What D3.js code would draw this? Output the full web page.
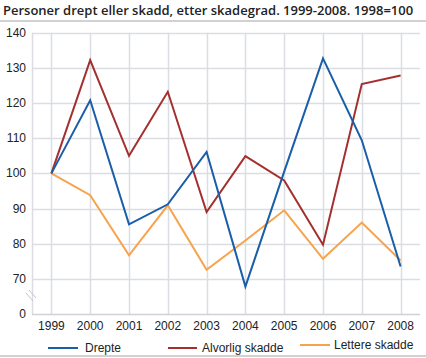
<!DOCTYPE html>
<html><head><meta charset="utf-8">
<script src="https://cdn.jsdelivr.net/npm/d3@7"></script>
<style>body{margin:0;background:#fff}svg{display:block}</style>
</head><body>
<script>
const years = ["1999","2000","2001","2002","2003","2004","2005","2006","2007","2008"];
const drepte = [100,120.8,85.5,91.2,106.1,67.8,100.5,132.7,109.4,73.5];
const alvorlig = [100,132.2,105,123.2,89,104.9,98,79.7,125.4,127.8];
const lettere = [100,93.8,76.7,90.9,72.6,80.9,89.5,75.7,86,75.2];
const seriesNames = ["Drepte","Alvorlig skadde","Lettere skadde"];
const seriesColors = ["#1a5da8","#a3302f","#f7a34d"];
const yTickValues = [60,70,80,90,100,110,120,130,140];
const yTickLabels = ["0","70","80","90","100","110","120","130","140"];
const title = "Personer drept eller skadd, etter skadegrad. 1999-2008. 1998=100";

const W=426,H=358;
const svg=d3.select("body").append("svg").attr("width",W).attr("height",H);
svg.append("text").attr("x",3).attr("y",15).text(title)
  .attr("font-family","Open Sans").attr("font-weight",600).attr("font-size",13).attr("fill","#222");
svg.append("rect").attr("x",0).attr("y",20).attr("width",W).attr("height",2).attr("fill","#d2d2d2");
svg.append("rect").attr("x",0).attr("y",355).attr("width",W).attr("height",2).attr("fill","#d2d2d2");

const x=d3.scalePoint().domain(years).range([32,420]).padding(0.5);
const y=d3.scaleLinear().domain([60,140]).range([314,32.7]);

const grid="#dcdde3";
const g=svg.append("g");
g.selectAll("line.h").data(yTickValues.slice(1)).join("line")
  .attr("x1",32).attr("x2",420).attr("y1",d=>Math.round(y(d))+0.5).attr("y2",d=>Math.round(y(d))+0.5)
  .attr("stroke",grid).attr("stroke-width",1.5);
g.selectAll("line.v").data(years).join("line")
  .attr("x1",d=>Math.round(x(d))+0.5).attr("x2",d=>Math.round(x(d))+0.5)
  .attr("y1",y(140)).attr("y2",y(60)).attr("stroke",grid).attr("stroke-width",1.5);
g.append("line").attr("x1",32.5).attr("x2",32.5).attr("y1",y(140)).attr("y2",y(60)).attr("stroke",grid).attr("stroke-width",1.5);
g.append("line").attr("x1",32).attr("x2",420).attr("y1",y(60)+0.5).attr("y2",y(60)+0.5).attr("stroke","#d0d1d8").attr("stroke-width",1.5);
// break marks
[0,3].forEach(o=>{
  g.append("line").attr("x1",26+o).attr("y1",293-o).attr("x2",33+o).attr("y2",301-o).attr("stroke","#c4c5cc").attr("stroke-width",1);
});

svg.selectAll("text.yt").data(yTickValues).join("text")
  .attr("x",26).attr("y",d=>y(d)+4).attr("text-anchor","end").text((d,i)=>yTickLabels[i])
  .attr("font-family","Liberation Sans").attr("font-size",12).attr("fill","#222");
svg.selectAll("text.xt").data(years).join("text")
  .attr("x",d=>x(d)).attr("y",330).attr("text-anchor","middle").text(d=>d)
  .attr("font-family","Liberation Sans").attr("font-size",12).attr("fill","#222");

const data=[drepte,alvorlig,lettere];
const line=d3.line().x((d,i)=>x(years[i])).y(d=>y(d));
[2,1,0].forEach(k=>{
  svg.append("path").attr("d",line(data[k])).attr("fill","none")
    .attr("stroke",seriesColors[k]).attr("stroke-width",2).attr("stroke-linejoin","miter");
});

const leg=[{x1:48,x2:78,tx:85,y:348},{x1:168,x2:197,tx:202,y:348},{x1:300,x2:330,tx:334,y:345}];
leg.forEach((l,i)=>{
  svg.append("line").attr("x1",l.x1).attr("x2",l.x2).attr("y1",l.y).attr("y2",l.y).attr("stroke",seriesColors[i]).attr("stroke-width",2);
  svg.append("text").attr("x",l.tx).attr("y",l.y+4).text(seriesNames[i])
    .attr("font-family","Liberation Sans").attr("font-size",12).attr("fill","#222");
});
</script>
</body></html>
